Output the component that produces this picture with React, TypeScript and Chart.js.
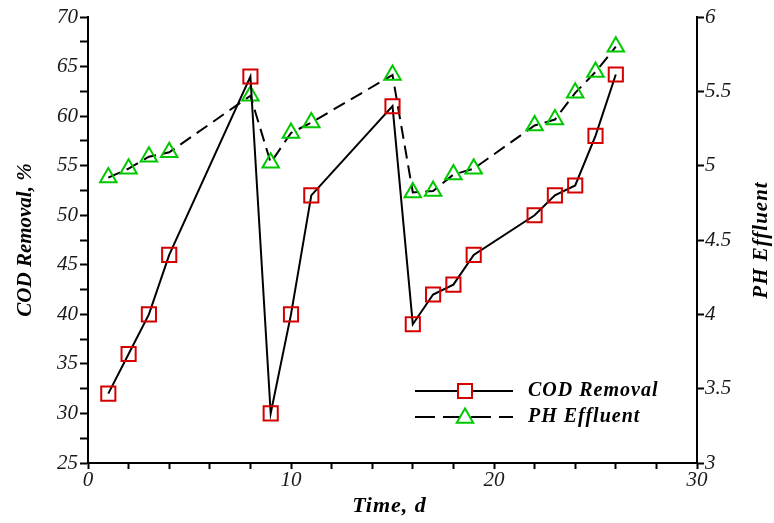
import React, { useEffect, useRef } from "react";
import { Chart, registerables } from "chart.js";

Chart.register(...registerables);

const days = [1, 2, 3, 4, 8, 9, 10, 11, 15, 16, 17, 18, 19, 22, 23, 24, 25, 26];
const codRemoval = [32, 36, 40, 46, 64, 30, 40, 52, 61, 39, 42, 43, 46, 50, 52, 53, 58, 64.2];
const phEffluent = [4.92, 4.98, 5.06, 5.09, 5.47, 5.02, 5.22, 5.29, 5.61, 4.82, 4.83, 4.94, 4.98, 5.27, 5.31, 5.49, 5.63, 5.8];

const xTitle = "Time, d";
const yTitle = "COD Removal, %";
const y1Title = "PH Effluent";
const seriesNames = ["COD Removal", "PH Effluent"];

const RED = "#d40000";
const GREEN = "#00c800";
const SERIF = "'Liberation Serif', 'Times New Roman', serif";

const decorPlugin = {
  id: "decor",
  afterDraw(chart: any) {
    const ctx = chart.ctx as CanvasRenderingContext2D;
    const area = chart.chartArea;
    ctx.save();
    ctx.fillStyle = "#000";
    ctx.font = `italic bold 21px ${SERIF}`;
    ctx.textAlign = "center";
    ctx.textBaseline = "middle";
    // left title
    ctx.save();
    ctx.translate(26, (area.top + area.bottom) / 2);
    ctx.rotate(-Math.PI / 2);
    ctx.fillText(yTitle, 0, 0);
    ctx.restore();
    // right title
    ctx.save();
    ctx.translate(762, (area.top + area.bottom) / 2);
    ctx.rotate(-Math.PI / 2);
    (ctx as any).letterSpacing = "1px";
    ctx.fillText(y1Title, 0, 0);
    ctx.restore();
    // bottom title
    ctx.save();
    ctx.font = `italic bold 22px ${SERIF}`;
    (ctx as any).letterSpacing = "1px";
    ctx.fillText(xTitle, (area.left + area.right) / 2 - 3, 506);
    ctx.restore();

    // legend
    const rows = [
      { y: 391, dash: [] as number[], style: "rect" },
      { y: 417, dash: [20, 8], style: "triangle" },
    ];
    rows.forEach((r, i) => {
      ctx.save();
      ctx.strokeStyle = "#000";
      ctx.lineWidth = 2;
      ctx.setLineDash(r.dash);
      ctx.beginPath();
      ctx.moveTo(415, r.y);
      ctx.lineTo(513, r.y);
      ctx.stroke();
      ctx.setLineDash([]);
      ctx.lineWidth = 2;
      if (r.style === "rect") {
        ctx.fillStyle = "#fff";
        ctx.strokeStyle = RED;
        ctx.fillRect(458, r.y - 7, 14, 14);
        ctx.strokeRect(458, r.y - 7, 14, 14);
      } else {
        const rad = 9.5;
        const cy = r.y + 1;
        ctx.fillStyle = "#fff";
        ctx.strokeStyle = GREEN;
        ctx.beginPath();
        ctx.moveTo(465, cy - rad);
        ctx.lineTo(465 + 0.866 * rad, cy + rad / 2);
        ctx.lineTo(465 - 0.866 * rad, cy + rad / 2);
        ctx.closePath();
        ctx.fill();
        ctx.stroke();
      }
      ctx.fillStyle = "#000";
      ctx.font = `italic bold 20px ${SERIF}`;
      (ctx as any).letterSpacing = "1px";
      ctx.textAlign = "left";
      ctx.textBaseline = "middle";
      ctx.fillText(seriesNames[i], 528, r.y);
      ctx.restore();
    });
    ctx.restore();
  },
};

export default function App() {
  const ref = useRef<HTMLCanvasElement>(null);
  useEffect(() => {
    document.body.style.margin = "0";
    const tickFont = { family: SERIF, size: 21, style: "italic" as const };
    const gridCommon = {
      drawOnChartArea: false,
      drawTicks: true,
      color: "#000",
      tickColor: "#000",
      tickWidth: 2,
    };
    const chart = new Chart(ref.current!, {
      type: "line",
      data: {
        datasets: [
          {
            label: seriesNames[0],
            data: days.map((d, i) => ({ x: d, y: codRemoval[i] })),
            yAxisID: "y",
            borderColor: "#000",
            borderWidth: 2,
            tension: 0,
            pointStyle: "rect",
            pointRadius: 10,
            pointBorderColor: RED,
            pointBackgroundColor: "rgba(0,0,0,0)",
            pointBorderWidth: 2,
          },
          {
            label: seriesNames[1],
            data: days.map((d, i) => ({ x: d, y: phEffluent[i] })),
            yAxisID: "y1",
            borderColor: "#000",
            borderWidth: 2,
            borderDash: [13, 7],
            tension: 0,
            pointStyle: "triangle",
            pointRadius: 9.5,
            pointBorderColor: GREEN,
            pointBackgroundColor: "rgba(0,0,0,0)",
            pointBorderWidth: 2,
          },
        ],
      },
      options: {
        responsive: false,
        animation: false,
        devicePixelRatio: 1,
        layout: { padding: { top: 17, left: 0, right: 0, bottom: 0 } },
        plugins: { legend: { display: false }, tooltip: { enabled: false } },
        scales: {
          x: {
            type: "linear",
            min: 0,
            max: 30,
            afterFit: (s: any) => { s.height = 60; },
            ticks: {
              stepSize: 2,
              autoSkip: false,
              maxRotation: 0,
              font: tickFont,
              color: "#1a1a1a",
              padding: -1,
              callback: (v: any) => (Number(v) % 10 === 0 ? String(v) : ""),
            },
            grid: { ...gridCommon, tickLength: 6 },
            border: { color: "#000", width: 2 },
          },
          y: {
            position: "left",
            min: 25,
            max: 70,
            afterFit: (s: any) => { s.width = 88; },
            ticks: {
              stepSize: 2.5,
              autoSkip: false,
              font: tickFont,
              color: "#1a1a1a",
              padding: 2,
              callback: (v: any) => (Number(v) % 5 === 0 ? String(v) : ""),
            },
            grid: { ...gridCommon, tickLength: 8 },
            border: { color: "#000", width: 2 },
          },
          y1: {
            position: "right",
            min: 3,
            max: 6,
            afterFit: (s: any) => { s.width = 77; },
            ticks: {
              stepSize: 0.5,
              autoSkip: false,
              font: tickFont,
              color: "#1a1a1a",
              padding: 1,
              callback: (v: any) => String(Number(v)),
            },
            grid: { ...gridCommon, tickLength: 7 },
            border: { color: "#000", width: 2 },
          },
        },
      },
      plugins: [decorPlugin],
    });
    return () => chart.destroy();
  }, []);
  return <canvas ref={ref} width={774} height={523} style={{ display: "block" }} />;
}
